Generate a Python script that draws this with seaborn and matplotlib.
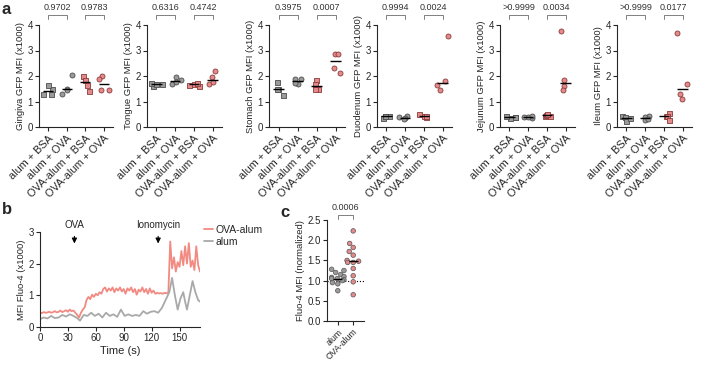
import numpy as np
import pandas as pd
import seaborn as sns
import matplotlib
matplotlib.use("Agg")
from matplotlib import pyplot as plt
from matplotlib import transforms

# ---- data -----------------------------------------------------------
groups = ["alum + BSA", "alum + OVA", "OVA-alum + BSA", "OVA-alum + OVA"]
group_marker = ["s", "o", "s", "o"]
group_color = ["#9b9b9b", "#9b9b9b", "#e48a8a", "#e48a8a"]
group_edge = ["#4d4d4d", "#4d4d4d", "#8c3b3b", "#8c3b3b"]

tissues = ["Gingiva", "Tongue", "Stomach", "Duodenum", "Jejunum", "Ileum"]
gingiva = [[1.30, 1.50, 1.65, 1.30], [2.05, 1.50, 1.45, 1.30],
           [2.00, 1.85, 1.65, 1.42], [2.00, 1.90, 1.45, 1.45]]
tongue = [[1.60, 1.70, 1.70, 1.72], [1.95, 1.85, 1.70, 1.75],
          [1.60, 1.65, 1.70, 1.72], [2.20, 1.95, 1.70, 1.75]]
stomach = [[1.77, 1.50, 1.50, 1.25], [1.90, 1.90, 1.70, 1.72],
           [1.85, 1.70, 1.50, 1.50], [2.85, 2.85, 2.30, 2.10]]
duodenum = [[0.35, 0.42, 0.45, 0.45], [0.45, 0.35, 0.33, 0.38],
            [0.50, 0.40, 0.42, 0.45], [3.55, 1.80, 1.65, 1.45]]
jejunum = [[0.35, 0.45, 0.38, 0.40], [0.35, 0.40, 0.42, 0.40],
           [0.42, 0.48, 0.45, 0.50], [3.75, 1.85, 1.60, 1.45]]
ileum = [[0.42, 0.38, 0.25, 0.35], [0.42, 0.40, 0.28, 0.30],
         [0.55, 0.45, 0.42, 0.28], [3.70, 1.70, 1.30, 1.10]]
tissue_values = [gingiva, tongue, stomach, duodenum, jejunum, ileum]
pvals = [["0.9702", "0.9783"], ["0.6316", "0.4742"], ["0.3975", "0.0007"],
         ["0.9994", "0.0024"], [">0.9999", "0.0034"], [">0.9999", "0.0177"]]

# panel b: Fluo-4 traces
time_ova = np.arange(0, 173, 2)
mfi_ova = [0.45, 0.44, 0.47, 0.45, 0.46, 0.48, 0.45, 0.47, 0.50, 0.46,
           0.48, 0.52, 0.47, 0.50, 0.53, 0.48, 0.55, 0.50, 0.52, 0.45,
           0.38, 0.30, 0.45, 0.55, 0.62, 0.85, 0.95, 0.88, 1.02, 0.95,
           1.05, 1.00, 1.10, 1.05, 1.20, 1.25, 1.12, 1.22, 1.15, 1.25,
           1.10, 1.22, 1.15, 1.25, 1.12, 1.20, 1.05, 1.22, 1.15, 1.25,
           1.10, 1.20, 1.02, 1.18, 1.12, 1.25, 1.10, 1.20, 1.05, 1.22,
           1.08, 1.15, 1.05, 1.08, 1.06, 1.07, 1.05, 1.08, 1.06, 1.10,
           2.70, 1.85, 2.20, 1.75, 2.05, 1.90, 2.40, 1.95, 2.55, 2.00,
           2.65, 1.90, 2.10, 1.80, 2.55, 1.95, 1.75]
time_alum = [0, 4, 8, 12, 16, 20, 24, 28, 32, 36, 40, 43, 47, 51, 55, 59,
             63, 67, 71, 75, 79, 83, 87, 91, 95, 99, 103, 107, 111, 115,
             119, 123, 127, 131, 135, 139, 142, 145, 148, 151, 154, 156,
             158, 161, 164, 167, 170, 172]
mfi_alum = [0.25, 0.30, 0.27, 0.35, 0.28, 0.30, 0.38, 0.33, 0.40, 0.35,
            0.28, 0.20, 0.38, 0.35, 0.45, 0.35, 0.42, 0.30, 0.45, 0.35,
            0.40, 0.32, 0.55, 0.35, 0.40, 0.35, 0.38, 0.35, 0.50, 0.42,
            0.48, 0.50, 0.45, 0.60, 0.85, 1.10, 1.55, 1.00, 0.55, 0.90,
            1.10, 0.80, 0.55, 1.00, 1.45, 1.10, 0.85, 0.80]

# panel c: normalized Fluo-4
c_alum = [1.28, 1.25, 1.20, 1.15, 1.10, 1.08, 1.05, 1.05, 1.02, 1.00,
          0.95, 0.92, 0.75]
c_ova = [2.23, 1.92, 1.82, 1.72, 1.63, 1.50, 1.48, 1.45, 1.45, 1.30,
         1.12, 0.97, 0.65]

# ---- style ----------------------------------------------------------
sns.set_style("ticks")
plt.rcParams["font.family"] = ["Liberation Sans", "DejaVu Sans"]
plt.rcParams["axes.linewidth"] = 0.8
plt.rcParams["xtick.major.width"] = 0.8
plt.rcParams["ytick.major.width"] = 0.8
plt.rcParams["xtick.major.size"] = 3
plt.rcParams["ytick.major.size"] = 3
plt.rcParams["xtick.labelsize"] = 7
plt.rcParams["ytick.labelsize"] = 7
plt.rcParams["axes.labelsize"] = 6.8
np.random.seed(7)

W, H = 707, 366
fig = plt.figure(figsize=(W / 100, H / 100), dpi=100)


def px_axes(l, t, r, b):
    return fig.add_axes([l / W, 1 - b / H, (r - l) / W, (b - t) / H])


def bracket(ax, x0, x1, text, y=1.1):
    tr = transforms.blended_transform_factory(ax.transData, ax.transAxes)
    ax.plot([x0, x0, x1, x1], [y - 0.04, y, y, y - 0.04], color="#808080",
            lw=0.7, transform=tr, clip_on=False)
    ax.text((x0 + x1) / 2, y + 0.03, text, transform=tr, ha="center",
            va="bottom", fontsize=6.5, color="#333333")


def median_lines(ax, data, x, y, order, width=0.55):
    sns.boxplot(data=data, x=x, y=y, order=order, ax=ax, showbox=False,
                showcaps=False, showfliers=False, width=width,
                whiskerprops={"visible": False},
                medianprops={"color": "black", "lw": 1.0}, zorder=3)


# ---- panel a --------------------------------------------------------
a_boxes = [(39, 113), (147, 222), (269, 345), (377, 452), (500, 575), (617, 692)]
for (l, r), tissue, vals, pv in zip(a_boxes, tissues, tissue_values, pvals):
    ax = px_axes(l, 25, r, 127)
    rows = []
    for g, v in zip(groups, vals):
        for val in v:
            rows.append({"group": g, "mfi": val})
    df = pd.DataFrame(rows)
    for i, g in enumerate(groups):
        sub = df[df["group"] == g]
        sns.stripplot(data=sub, x="group", y="mfi", order=groups, ax=ax,
                      marker=group_marker[i], color=group_color[i],
                      edgecolor=group_edge[i], linewidth=0.6, size=3.6,
                      jitter=0.32, zorder=2)
    median_lines(ax, df, "group", "mfi", groups)
    ax.set_xlim(-0.5, 3.5)
    ax.set_ylim(0, 4)
    ax.set_yticks([0, 1, 2, 3, 4])
    ax.set_xlabel("")
    ax.set_ylabel(f"{tissue} GFP MFI (x1000)", labelpad=2)
    ax.set_xticks(range(4))
    ax.set_xticklabels(groups, rotation=45, ha="right", rotation_mode="anchor",
                       fontsize=7.8)
    ax.tick_params(axis="both", pad=1.5)
    sns.despine(ax=ax)
    bracket(ax, 0, 1, pv[0])
    bracket(ax, 2, 3, pv[1])

fig.text(2 / W, 1 - 2 / H, "a", fontsize=12, fontweight="bold", va="top")

# ---- panel b --------------------------------------------------------
df_b = pd.concat([
    pd.DataFrame({"time": time_ova, "mfi": mfi_ova, "group": "OVA-alum"}),
    pd.DataFrame({"time": time_alum, "mfi": mfi_alum, "group": "alum"}),
])
axb = px_axes(40, 232, 200, 327)
sns.lineplot(data=df_b, x="time", y="mfi", hue="group",
             palette={"OVA-alum": "#f28a82", "alum": "#a9a9a9"}, lw=1.3,
             ax=axb)
axb.set_xlim(0, 172)
axb.set_ylim(0, 3)
axb.set_xticks([0, 30, 60, 90, 120, 150])
axb.set_yticks([0, 1, 2, 3])
axb.set_xlabel("Time (s)", fontsize=8, labelpad=2)
axb.set_ylabel("MFI Fluo-4 (x1000)", labelpad=2)
axb.tick_params(axis="both", pad=1.5)
axb.legend(loc="upper left", bbox_to_anchor=(1.0, 1.12), frameon=False,
           fontsize=7.5, handlelength=0.8, handletextpad=0.3,
           labelspacing=0.2, borderaxespad=0)
sns.despine(ax=axb)
for t, label in [(37, "OVA"), (127, "Ionomycin")]:
    axb.annotate("", xy=(t, 2.55), xytext=(t, 2.95),
                 arrowprops=dict(arrowstyle="-|>,head_width=0.15,head_length=0.3",
                                 color="black", lw=0.8), annotation_clip=False)
    axb.text(t, 3.05, label, ha="center", va="bottom", fontsize=7)
fig.text(2 / W, 1 - 202 / H, "b", fontsize=12, fontweight="bold", va="top")

# ---- panel c --------------------------------------------------------
df_c = pd.DataFrame({"group": ["alum"] * len(c_alum) + ["OVA-alum"] * len(c_ova),
                     "mfi": c_alum + c_ova})
axc = px_axes(327, 220, 364, 321)
axc.axhline(1.0, ls=":", color="black", lw=0.8, zorder=1)
sns.swarmplot(data=df_c, x="group", y="mfi", hue="group",
              order=["alum", "OVA-alum"],
              palette={"alum": "#9b9b9b", "OVA-alum": "#e48a8a"},
              edgecolor="#555555", linewidth=0.5, size=3.3, ax=axc, legend=False,
              zorder=2)
median_lines(axc, df_c, "group", "mfi", ["alum", "OVA-alum"], width=0.6)
axc.set_xlim(-0.7, 1.7)
axc.set_ylim(0, 2.5)
axc.set_yticks([0, 0.5, 1.0, 1.5, 2.0, 2.5])
axc.set_yticklabels(["0.0", "0.5", "1.0", "1.5", "2.0", "2.5"])
axc.set_xlabel("")
axc.set_ylabel("Fluo-4 MFI (normalized)", labelpad=2)
axc.set_xticks([0, 1])
axc.set_xticklabels(["alum", "OVA-alum"], rotation=45, ha="right",
                    rotation_mode="anchor", fontsize=6.3)
axc.tick_params(axis="both", pad=1.5)
sns.despine(ax=axc)
bracket(axc, 0, 1, "0.0006", y=1.05)
fig.text(280 / W, 1 - 205 / H, "c", fontsize=12, fontweight="bold", va="top")

fig.savefig("out.png", dpi=100)
